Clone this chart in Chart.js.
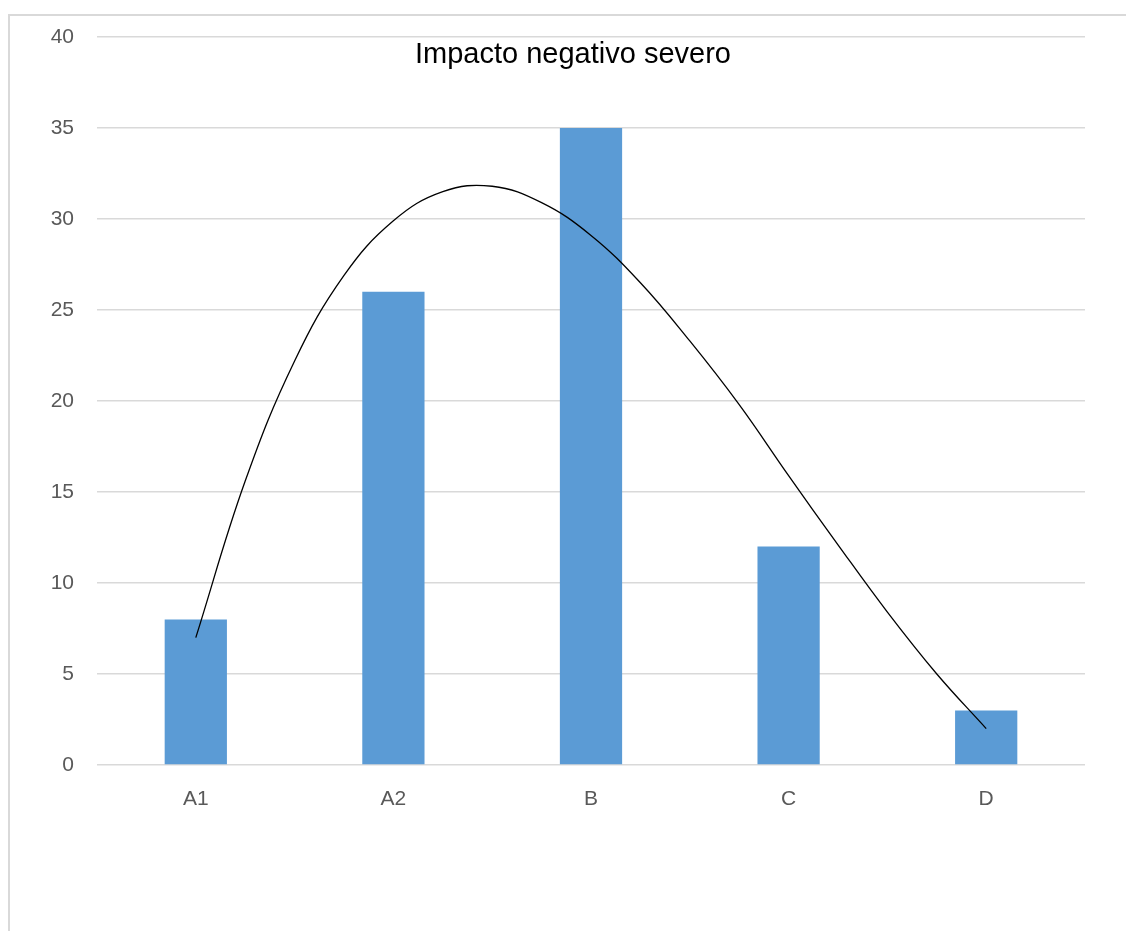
<!DOCTYPE html>
<html>
<head>
<meta charset="utf-8">
<title>Impacto negativo severo</title>
<script src="https://cdn.jsdelivr.net/npm/chart.js@4/dist/chart.umd.min.js"></script>
<style>
    html, body { margin: 0; padding: 0; background: #fff; overflow: hidden; }
    #frame {
        position: absolute; left: 8px; top: 14px; width: 1200px; height: 1000px;
        border-left: 2px solid #d9d9d9; border-top: 2px solid #d9d9d9;
    }
    #chart { position: absolute; left: 0; top: 0; }
</style>
</head>
<body>
<div id="frame"></div>
<canvas id="chart" width="1126" height="931"></canvas>
<script>
// datos
const categories = ['A1', 'A2', 'B', 'C', 'D'];
const barValues = [8, 26, 35, 12, 3];
const yTicks = [0, 5, 10, 15, 20, 25, 30, 35, 40];

// línea de tendencia (leída a cuartos de categoría)
const trendPos = [0, 0.25, 0.5, 0.75, 1, 1.25, 1.5, 1.75, 2, 2.25, 2.5, 2.75, 3, 3.25, 3.5, 3.75, 4];
const trendValues = [7.0, 15.6, 22.2, 26.9, 29.9, 31.5, 31.8, 30.9, 29.1, 26.5, 23.3, 19.8, 15.9, 12.1, 8.4, 5.0, 2.0];

const chartTitle = 'Impacto negativo severo';

// título dentro del área del gráfico
const titlePlugin = {
    id: 'insideTitle',
    afterDraw(chart) {
        const ctx = chart.ctx;
        ctx.save();
        ctx.font = '29px "Liberation Sans", Arial, sans-serif';
        ctx.fillStyle = '#000';
        ctx.textAlign = 'center';
        ctx.textBaseline = 'middle';
        ctx.fillText(chartTitle, 573, 55);
        ctx.restore();
    }
};

new Chart(document.getElementById('chart').getContext('2d'), {
    data: {
        labels: categories,
        datasets: [
            {
                type: 'line',
                data: trendPos.map((p, i) => ({ x: p, y: trendValues[i] })),
                xAxisID: 'xl',
                borderColor: '#000',
                borderWidth: 1.3,
                pointRadius: 0,
                tension: 0.4,
                fill: false
            },
            {
                type: 'bar',
                data: barValues,
                backgroundColor: '#5b9bd5',
                grouped: false,
                categoryPercentage: 1,
                barPercentage: 0.315
            }
        ]
    },
    options: {
        responsive: false,
        animation: false,
        layout: { padding: { left: 0, right: 41, top: 37, bottom: 86 } },
        plugins: { legend: { display: false }, tooltip: { enabled: false } },
        scales: {
            x: {
                type: 'category',
                grid: { display: false },
                border: { display: false },
                ticks: { color: '#595959', font: { size: 21, family: '"Liberation Sans", Arial, sans-serif' }, padding: 14 },
                afterFit: s => { s.height = 80; }
            },
            xl: {
                type: 'linear', display: false, min: -0.5, max: 4.5
            },
            y: {
                min: 0, max: 40,
                afterBuildTicks: s => { s.ticks = yTicks.map(v => ({ value: v })); },
                grid: { color: '#d9d9d9', lineWidth: 1.5, drawTicks: false },
                border: { display: false },
                ticks: { color: '#595959', font: { size: 21, family: '"Liberation Sans", Arial, sans-serif' }, padding: 23 },
                afterFit: s => { s.width = 97; }
            }
        }
    },
    plugins: [titlePlugin]
});
</script>
</body>
</html>
